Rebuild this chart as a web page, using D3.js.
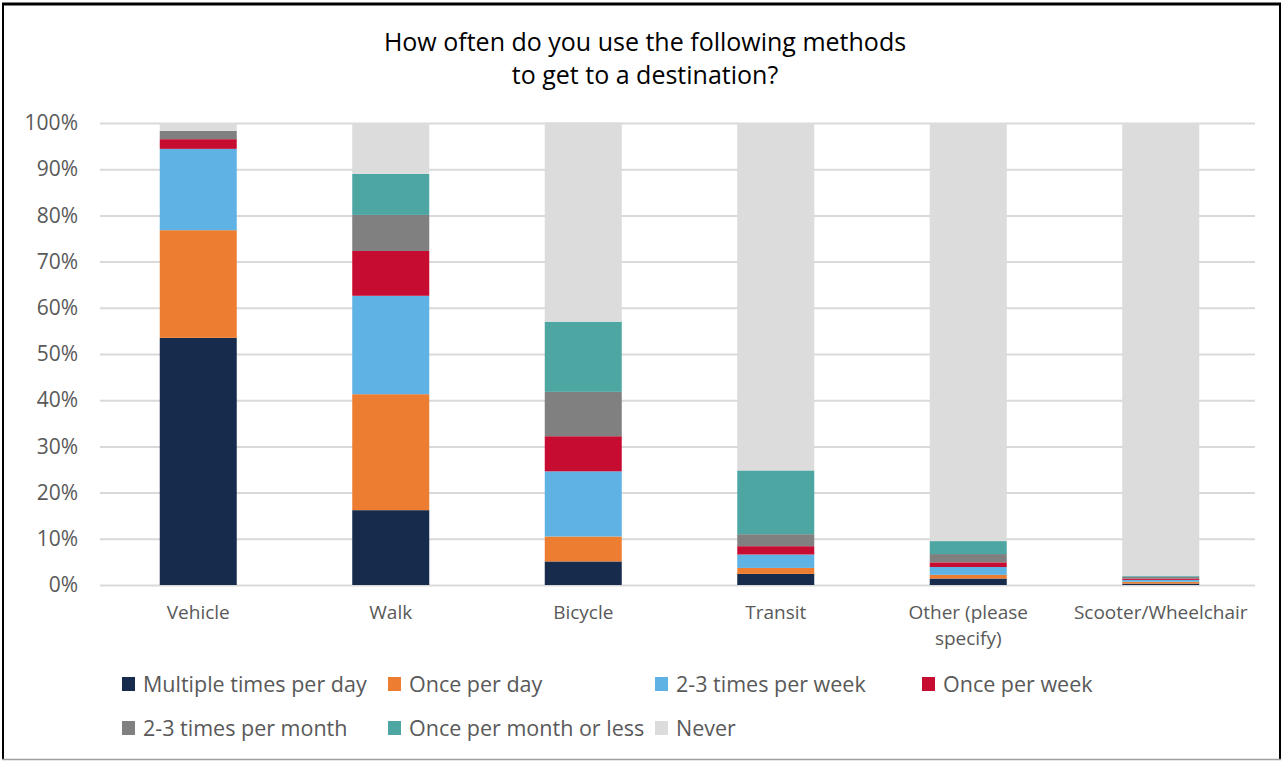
<!DOCTYPE html>
<html>
<head>
<meta charset="utf-8">
<script src="https://cdn.jsdelivr.net/npm/d3@7"></script>
<style>
  html, body { margin: 0; padding: 0; background: #fff; }
  svg { display: block; }
  text { font-family: "Open Sans", "Noto Sans", sans-serif; }
</style>
</head>
<body>
<svg id="chart" width="1283" height="761"></svg>
<script>
// Survey: how often each travel method is used (share of respondents, %)
const categories = ["Vehicle", "Walk", "Bicycle", "Transit", "Other (please specify)", "Scooter/Wheelchair"];
const categoryLines = [["Vehicle"], ["Walk"], ["Bicycle"], ["Transit"], ["Other (please", "specify)"], ["Scooter/Wheelchair"]];

const seriesNames = [
  "Multiple times per day", "Once per day", "2-3 times per week", "Once per week",
  "2-3 times per month", "Once per month or less", "Never"
];

const multipleTimesPerDay = [53.5, 16.2, 5.1, 2.4, 1.4, 0.3];
const oncePerDay          = [23.3, 25.1, 5.4, 1.3, 0.8, 0.4];
const twoThreePerWeek     = [17.6, 21.3, 14.1, 2.9, 1.7, 0.4];
const oncePerWeek         = [2.1, 9.7, 7.6, 1.8, 1.0, 0.3];
const twoThreePerMonth    = [1.8, 7.8, 9.6, 2.6, 1.8, 0.4];
const oncePerMonthOrLess  = [0.0, 8.9, 15.2, 13.8, 2.8, 0.2];
const never               = [1.7, 11.0, 43.1, 75.2, 90.5, 98.0];

const seriesValues = [multipleTimesPerDay, oncePerDay, twoThreePerWeek, oncePerWeek,
                      twoThreePerMonth, oncePerMonthOrLess, never];

const yTicks = [0, 10, 20, 30, 40, 50, 60, 70, 80, 90, 100];
const colors = ["#172b4d", "#ed7d31", "#5eb3e4", "#c60c30", "#808080", "#4ea6a3", "#dcdcdc"];

// Flat table for the stack layout
const table = categories.map((c, i) => {
  const row = { category: c };
  seriesNames.forEach((s, k) => { row[s] = seriesValues[k][i]; });
  return row;
});

const svg = d3.select("#chart");
const W = 1283, H = 761;

// Outer frame
svg.append("rect").attr("x", 0).attr("y", 0).attr("width", W).attr("height", H).attr("fill", "#fff");
svg.append("line").attr("x1", 2).attr("x2", 1281).attr("y1", 4).attr("y2", 4).attr("stroke", "#000").attr("stroke-width", 3);
svg.append("line").attr("x1", 3).attr("x2", 3).attr("y1", 3).attr("y2", 760).attr("stroke", "#000").attr("stroke-width", 2);
svg.append("line").attr("x1", 1280).attr("x2", 1280).attr("y1", 3).attr("y2", 760).attr("stroke", "#000").attr("stroke-width", 2);
svg.append("line").attr("x1", 2).attr("x2", 1281).attr("y1", 759.5).attr("y2", 759.5).attr("stroke", "#a0a0a0").attr("stroke-width", 1.5);

// Title
const title = svg.append("text").attr("text-anchor", "middle").attr("fill", "#000")
  .attr("font-size", 25);
title.append("tspan").attr("x", 645).attr("y", 51).text("How often do you use the following methods");
title.append("tspan").attr("x", 645).attr("y", 84).text("to get to a destination?");

const plot = { left: 100, right: 1255, top: 123, bottom: 585 };

const x = d3.scaleBand().domain(categories).range([plot.left + 2, plot.right + 2]).paddingInner(0.6).paddingOuter(0.3);
const y = d3.scaleLinear().domain([0, 100]).range([plot.bottom, plot.top]);

// Gridlines and y axis labels
const yAxis = d3.axisLeft(y).tickValues(yTicks).tickFormat(d => d + "%")
  .tickSize(-(plot.right - plot.left)).tickPadding(22);
const gy = svg.append("g").attr("transform", `translate(${plot.left},0)`).call(yAxis);
gy.select(".domain").remove();
gy.selectAll(".tick line").attr("stroke", "#d9d9d9").attr("stroke-width", 2);
gy.selectAll(".tick text").attr("fill", "#595959").attr("font-size", 21)
  .attr("font-family", "'Open Sans', sans-serif");

// Stacked bars
const stack = d3.stack().keys(seriesNames);
const layers = stack(table);
svg.append("g").selectAll("g").data(layers).join("g")
  .attr("fill", (d, k) => colors[k])
  .selectAll("rect").data(d => d).join("rect")
  .attr("x", d => x(d.data.category))
  .attr("width", x.bandwidth())
  .attr("y", d => y(d[1]))
  .attr("height", d => Math.max(0, y(d[0]) - y(d[1])));

// Category labels
const xAxis = d3.axisBottom(x).tickSize(0).tickPadding(0).tickFormat("");
const gx = svg.append("g").attr("transform", `translate(0,${plot.bottom})`).call(xAxis);
gx.select(".domain").remove();
gx.selectAll(".tick").each(function (d, i) {
  const t = d3.select(this).append("text").attr("text-anchor", "middle")
    .attr("fill", "#595959").attr("font-size", 19);
  categoryLines[i].forEach((line, j) => {
    t.append("tspan").attr("x", 0).attr("y", 34 + j * 26).text(line);
  });
});

// Legend
const legendPos = [
  [122, 677], [388, 677], [655, 677], [922, 677],
  [122, 721], [388, 721], [655, 721]
];
const legend = svg.append("g").selectAll("g").data(seriesNames).join("g")
  .attr("transform", (d, k) => `translate(${legendPos[k][0]},${legendPos[k][1]})`);
legend.append("rect").attr("width", 13).attr("height", 14).attr("fill", (d, k) => colors[k]);
legend.append("text").attr("x", 21).attr("y", 15).attr("fill", "#595959")
  .attr("font-size", 21.5).text(d => d);
</script>
</body>
</html>
